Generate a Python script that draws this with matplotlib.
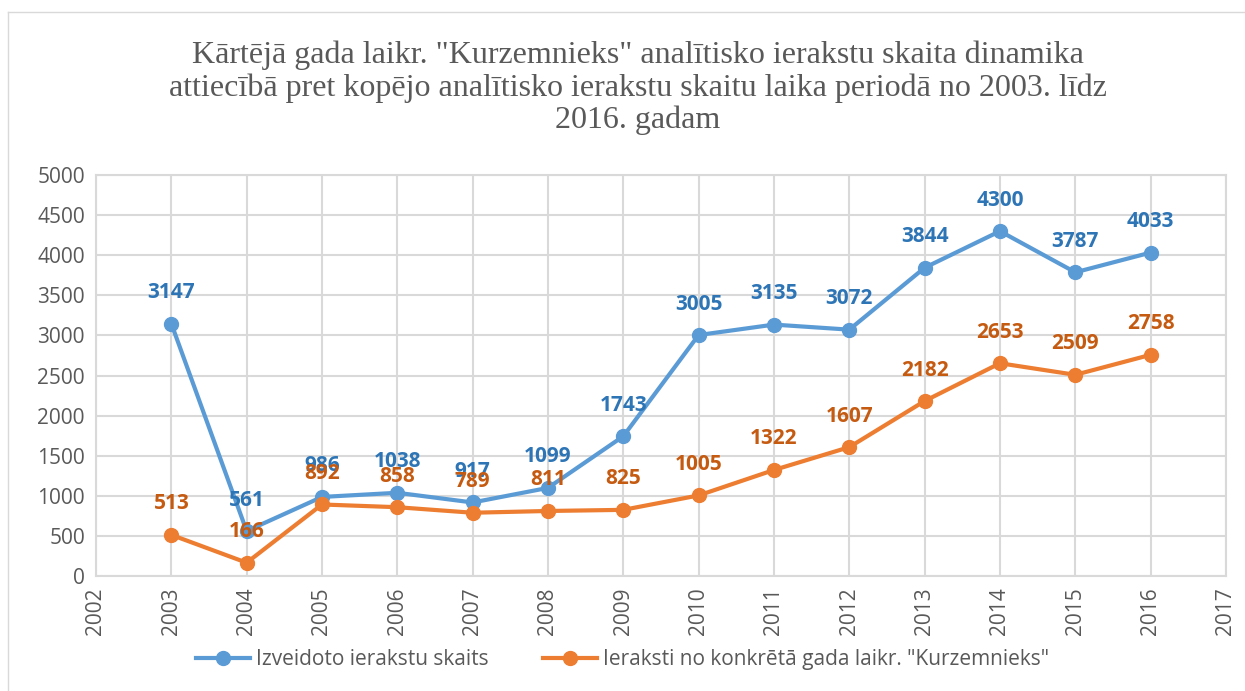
import numpy as np
import matplotlib
matplotlib.use('Agg')
import matplotlib.pyplot as plt
from matplotlib.lines import Line2D

# dati
years = [2003, 2004, 2005, 2006, 2007, 2008, 2009, 2010, 2011, 2012, 2013, 2014, 2015, 2016]
total = [3147, 561, 986, 1038, 917, 1099, 1743, 3005, 3135, 3072, 3844, 4300, 3787, 4033]
kurz = [513, 166, 892, 858, 789, 811, 825, 1005, 1322, 1607, 2182, 2653, 2509, 2758]
x_ticks = list(range(2002, 2018))
y_ticks = list(range(0, 5001, 500))

title = ('Kārtējā gada laikr. "Kurzemnieks" analītisko ierakstu skaita dinamika\n'
         'attiecībā pret kopējo analītisko ierakstu skaitu laika periodā no 2003. līdz\n'
         '2016. gadam')
label_total = 'Izveidoto ierakstu skaits'
label_kurz = 'Ieraksti no konkrētā gada laikr. "Kurzemnieks"'

blue = '#5B9BD5'
orange = '#ED7D31'
blue_txt = '#2E75B6'
orange_txt = '#C55A11'
gray = '#595959'
grid_c = '#D9D9D9'

sans = ['Open Sans', 'DejaVu Sans']

fig = plt.figure(figsize=(12.45, 6.91), dpi=100)
ax = fig.add_axes([0.0771, 0.1664, 0.9076, 0.5803])

# rāmis ap attēlu (tikai augša un kreisā puse redzama)
fig.add_artist(Line2D([8 / 1245, 8 / 1245], [0, 1 - 12 / 691], transform=fig.transFigure,
                      color=grid_c, lw=1))
fig.add_artist(Line2D([8 / 1245, 1], [1 - 12 / 691, 1 - 12 / 691], transform=fig.transFigure,
                      color=grid_c, lw=1))

ax.plot(years, total, color=blue, lw=3, marker='o', ms=10, label=label_total, zorder=3)
ax.plot(years, kurz, color=orange, lw=3, marker='o', ms=10, label=label_kurz, zorder=3)

for x, y in zip(years, total):
    ax.annotate(str(y), (x, y), xytext=(0, 31), textcoords='offset pixels', ha='center',
                va='center', color=blue_txt, fontsize=15, fontweight='bold', family=sans, zorder=4)
for x, y in zip(years, kurz):
    ax.annotate(str(y), (x, y), xytext=(0, 31), textcoords='offset pixels', ha='center',
                va='center', color=orange_txt, fontsize=15, fontweight='bold', family=sans, zorder=5)

ax.set_xlim(2002, 2017)
ax.set_ylim(0, 5000)
ax.set_xticks(x_ticks)
ax.set_yticks(y_ticks)
ax.set_xticklabels([str(v) for v in x_ticks], rotation=90, fontsize=15, color=gray, family=sans)
ax.set_yticklabels([str(v) for v in y_ticks], fontsize=15, color=gray, family=sans)
ax.tick_params(length=0, pad=8)
ax.grid(True, color=grid_c, lw=1.5)
ax.set_axisbelow(True)
for s in ax.spines.values():
    s.set_color(grid_c)
    s.set_linewidth(1.5)

fig.text(0.512, 0.873, title, ha='center', va='center', fontsize=23, color=gray,
         family='Liberation Serif', linespacing=1.12)

leg = fig.legend(loc='center', bbox_to_anchor=(0.5, 0.045), ncol=2, frameon=False,
                 prop={'family': sans, 'size': 15}, handlelength=2.6, handletextpad=0.3,
                 columnspacing=2.6)
for t in leg.get_texts():
    t.set_color(gray)

plt.savefig('out.png', dpi=100)
